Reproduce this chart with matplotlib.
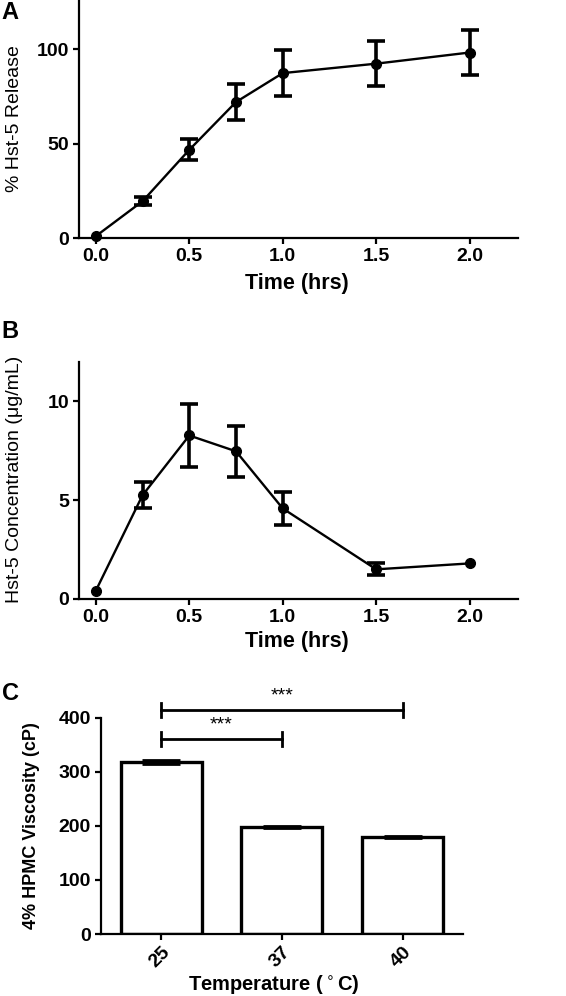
import matplotlib
matplotlib.use("Agg")
import matplotlib.pyplot as plt
import numpy as np

plt.rcParams['font.family'] = ['Liberation Sans', 'DejaVu Sans']

# Panel A data
time_a = [0.0, 0.25, 0.5, 0.75, 1.0, 1.5, 2.0]
release = [1.0, 19.5, 46.7, 72.0, 87.3, 92.3, 98.2]
release_err = [0.0, 2.0, 5.5, 9.5, 12.0, 12.0, 12.0]

# Panel B data
time_b = [0.0, 0.25, 0.5, 0.75, 1.0, 1.5, 2.0]
conc = [0.42, 5.25, 8.27, 7.47, 4.58, 1.5, 1.8]
conc_err = [0.0, 0.65, 1.58, 1.3, 0.83, 0.3, 0.0]

# Panel C data
temps = ['25', '37', '40']
visc = [318, 198, 180]
visc_err = [3, 1, 2]

time_ticks = [0.0, 0.5, 1.0, 1.5, 2.0]
time_ticklabels = ['0.0', '0.5', '1.0', '1.5', '2.0']

fig = plt.figure(figsize=(5.66, 9.96), dpi=100)

def style(ax):
    for s in ['top', 'right']:
        ax.spines[s].set_visible(False)
    for s in ['left', 'bottom']:
        ax.spines[s].set_linewidth(1.6)
    ax.tick_params(direction='out', length=4, width=1.6, labelsize=14, pad=3)
    for lab in ax.get_xticklabels() + ax.get_yticklabels():
        lab.set_fontweight('bold')

def line_with_err(ax, xs, ys, errs):
    xs = np.asarray(xs); ys = np.asarray(ys); errs = np.asarray(errs)
    ax.plot(xs, ys, color='black', lw=1.7, marker='o', ms=7, clip_on=False, zorder=3)
    m = errs > 0
    ax.errorbar(xs[m], ys[m], yerr=errs[m], fmt='none', ecolor='black',
                elinewidth=2.6, capsize=6.5, capthick=2.6, clip_on=False, zorder=3)

# Panel A
axA = fig.add_axes([0.1396, 0.761, 0.776, 0.239])
line_with_err(axA, time_a, release, release_err)
axA.set_xlim(-0.09, 2.26)
axA.set_ylim(0, 126)
axA.set_yticks([0, 50, 100])
axA.set_xticks(time_ticks)
axA.set_xticklabels(time_ticklabels)
axA.set_xlabel('Time (hrs)', fontsize=15.5, fontweight='bold')
axA.set_ylabel('% Hst-5 Release', fontsize=14)
axA.xaxis.set_label_coords(0.497, -0.147)
axA.yaxis.set_label_coords(-0.128, 0.5)
style(axA)
fig.text(0.003, 0.9875, 'A', fontsize=17, fontweight='bold', va='center')

# Panel B
axB = fig.add_axes([0.1396, 0.3986, 0.776, 0.2382])
line_with_err(axB, time_b, conc, conc_err)
axB.set_xlim(-0.09, 2.26)
axB.set_ylim(0, 12)
axB.set_yticks([0, 5, 10])
axB.set_xticks(time_ticks)
axB.set_xticklabels(time_ticklabels)
axB.set_xlabel('Time (hrs)', fontsize=15.5, fontweight='bold')
axB.set_ylabel('Hst-5 Concentration (\u03bcg/mL)', fontsize=14)
axB.xaxis.set_label_coords(0.497, -0.135)
axB.yaxis.set_label_coords(-0.128, 0.506)
style(axB)
fig.text(0.003, 0.667, 'B', fontsize=17, fontweight='bold', va='center')

# Panel C
axC = fig.add_axes([0.178, 0.0622, 0.640, 0.2172])
x = np.arange(len(temps))
axC.bar(x, visc, width=0.67, color='white', edgecolor='black', linewidth=2.4,
        yerr=visc_err, error_kw=dict(ecolor='black', elinewidth=2, capsize=14, capthick=2))
axC.set_xlim(-0.5, 2.5)
axC.set_ylim(0, 400)
axC.set_yticks([0, 100, 200, 300, 400])
axC.set_xticks(x)
axC.set_xticklabels(temps, rotation=45, ha='right', rotation_mode='anchor')
axC.set_xlabel('Temperature ($^\\circ$C)', fontsize=14.5, fontweight='bold')
axC.set_ylabel('4% HPMC Viscosity (cP)', fontsize=13, fontweight='bold')
axC.xaxis.set_label_coords(0.478, -0.182)
axC.yaxis.set_label_coords(-0.169, 0.5)
style(axC)
fig.text(0.003, 0.3037, 'C', fontsize=17, fontweight='bold', va='center')

# significance brackets
def bracket(ax, x1, x2, y, h):
    ax.plot([x1, x2], [y, y], color='black', lw=2, clip_on=False)
    ax.plot([x1, x1], [y - h, y + h], color='black', lw=2, clip_on=False)
    ax.plot([x2, x2], [y - h, y + h], color='black', lw=2, clip_on=False)
    ax.text((x1 + x2) / 2, y + 10, '***', ha='center', va='bottom', fontsize=14, clip_on=False)

bracket(axC, 0, 2, 415, 13)
bracket(axC, 0, 1, 360, 13)

fig.savefig('out.png', dpi=100)
